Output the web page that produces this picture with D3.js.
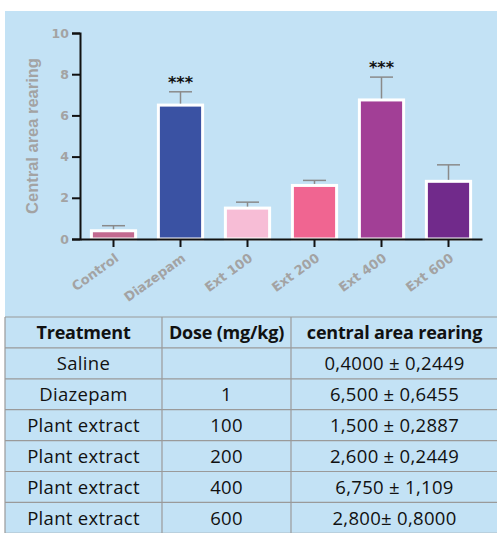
<!DOCTYPE html>
<html>
<head>
<meta charset="utf-8">
<script src="https://cdn.jsdelivr.net/npm/d3@7"></script>
<style>
  body { margin: 0; background: #fff; }
  svg { display: block; }
  .lab { font-family: "DejaVu Sans", sans-serif; font-weight: bold; fill: #a3a3a3; }
  .tbl { font-family: "Open Sans", sans-serif; fill: #111; }
</style>
</head>
<body>
<svg id="chart" width="497" height="533"></svg>
<script>
// chart data
var groups = ["Control", "Diazepam", "Ext 100", "Ext 200", "Ext 400", "Ext 600"];
var means = [0.4, 6.5, 1.5, 2.6, 6.75, 2.8];
var sems = [0.2449, 0.6455, 0.2887, 0.2449, 1.109, 0.8];
var stars = ["", "***", "", "", "***", ""];
var barColors = ["#c2698f", "#3a52a3", "#f7bdd6", "#f06591", "#a23f96", "#712a8b"];
var yTicks = [0, 2, 4, 6, 8, 10];

// table data
var headers = ["Treatment", "Dose (mg/kg)", "central area rearing"];
var treatments = ["Saline", "Diazepam", "Plant extract", "Plant extract", "Plant extract", "Plant extract"];
var doses = ["", "1", "100", "200", "400", "600"];
var results = ["0,4000 \u00b1 0,2449", "6,500 \u00b1 0,6455", "1,500 \u00b1 0,2887",
               "2,600 \u00b1 0,2449", "6,750 \u00b1 1,109", "2,800\u00b1 0,8000"];

var svg = d3.select("#chart");

svg.append("rect")
  .attr("x", 5).attr("y", 11)
  .attr("width", 492).attr("height", 522)
  .attr("fill", "#c3e2f5");

var x = d3.scaleBand().domain(groups).range([80, 482]).paddingInner(0.34).paddingOuter(0.17);
var y = d3.scaleLinear().domain([0, 10]).range([239, 33]);

var g = svg.append("g");

// bars with white outline
g.selectAll("rect.bar")
  .data(groups)
  .enter()
  .append("rect")
  .attr("class", "bar")
  .attr("x", function (d) { return x(d); })
  .attr("width", x.bandwidth())
  .attr("y", function (d, i) { return y(means[i]); })
  .attr("height", function (d, i) { return y(0) - y(means[i]); })
  .attr("fill", function (d, i) { return barColors[i]; })
  .attr("stroke", "#fff")
  .attr("stroke-width", 3);

// upper error bars
var errG = g.selectAll("g.err")
  .data(groups)
  .enter()
  .append("g")
  .attr("class", "err")
  .attr("stroke", "#8a8a8a")
  .attr("stroke-width", 1.5);

errG.append("line")
  .attr("x1", function (d) { return x(d) + x.bandwidth() / 2; })
  .attr("x2", function (d) { return x(d) + x.bandwidth() / 2; })
  .attr("y1", function (d, i) { return y(means[i]) - 1.5; })
  .attr("y2", function (d, i) { return y(means[i] + sems[i]); });

errG.append("line")
  .attr("x1", function (d) { return x(d) + x.bandwidth() / 2 - 11.5; })
  .attr("x2", function (d) { return x(d) + x.bandwidth() / 2 + 11.5; })
  .attr("y1", function (d, i) { return y(means[i] + sems[i]); })
  .attr("y2", function (d, i) { return y(means[i] + sems[i]); });

// significance stars
g.selectAll("text.star")
  .data(groups)
  .enter()
  .append("text")
  .attr("class", "star")
  .attr("x", function (d) { return x(d) + x.bandwidth() / 2; })
  .attr("y", function (d, i) { return y(means[i] + sems[i]) - 4; })
  .attr("text-anchor", "middle")
  .style("font-family", "'DejaVu Sans', sans-serif")
  .style("font-weight", "bold")
  .style("font-size", "16px")
  .style("fill", "#111")
  .text(function (d, i) { return stars[i]; });

// y axis
var yAxis = svg.append("g")
  .attr("transform", "translate(80,0)")
  .call(d3.axisLeft(y).tickValues(yTicks).tickSize(8).tickPadding(3));
yAxis.select(".domain").attr("stroke", "#111").attr("stroke-width", 2);
yAxis.selectAll(".tick line").attr("stroke", "#111").attr("stroke-width", 2);
yAxis.selectAll(".tick text")
  .attr("class", "lab")
  .attr("fill", null)
  .style("font-size", "12.5px");

// x axis
var xAxis = svg.append("g")
  .attr("transform", "translate(0,239)")
  .call(d3.axisBottom(x).tickSize(8).tickSizeOuter(0));
xAxis.select(".domain").attr("stroke", "#111").attr("stroke-width", 2);
xAxis.selectAll(".tick line").attr("stroke", "#111").attr("stroke-width", 2);
xAxis.selectAll(".tick text")
  .attr("class", "lab")
  .attr("fill", null)
  .style("font-size", "13px")
  .attr("text-anchor", "end")
  .attr("dy", "0")
  .attr("y", 0)
  .attr("transform", "translate(6,21) rotate(-36)");

// y label
svg.append("text")
  .attr("class", "lab")
  .attr("transform", "translate(38,136) rotate(-90)")
  .attr("text-anchor", "middle")
  .style("font-family", "'Liberation Sans', Arial, sans-serif")
  .style("font-size", "16.5px")
  .text("Central area rearing");

// table
var colX = [5, 162, 291, 498];
var rowTop = 317, rowH = 30.9;
var rows = [headers].concat(treatments.map(function (t, i) {
  return [t, doses[i], results[i]];
}));

var tbl = svg.append("g");
var lineColor = "#9a9a9a";

d3.range(rows.length + 1).forEach(function (ri) {
  tbl.append("line")
    .attr("x1", colX[0]).attr("x2", colX[3])
    .attr("y1", rowTop + ri * rowH).attr("y2", rowTop + ri * rowH)
    .attr("stroke", lineColor).attr("stroke-width", 1.2);
});
colX.forEach(function (cx) {
  tbl.append("line")
    .attr("x1", cx).attr("x2", cx)
    .attr("y1", rowTop).attr("y2", rowTop + rows.length * rowH)
    .attr("stroke", lineColor).attr("stroke-width", 1.2);
});

rows.forEach(function (r, ri) {
  r.forEach(function (cell, ci) {
    tbl.append("text")
      .attr("class", "tbl")
      .attr("x", (colX[ci] + colX[ci + 1]) / 2)
      .attr("y", rowTop + ri * rowH + rowH / 2)
      .attr("dy", "0.36em")
      .attr("text-anchor", "middle")
      .style("font-weight", ri === 0 ? "bold" : "normal")
      .style("font-size", ri === 0 ? "18px" : "18.5px")
      .style("letter-spacing", ri === 0 ? "-0.2px" : "0.3px")
      .text(cell);
  });
});
</script>
</body>
</html>
